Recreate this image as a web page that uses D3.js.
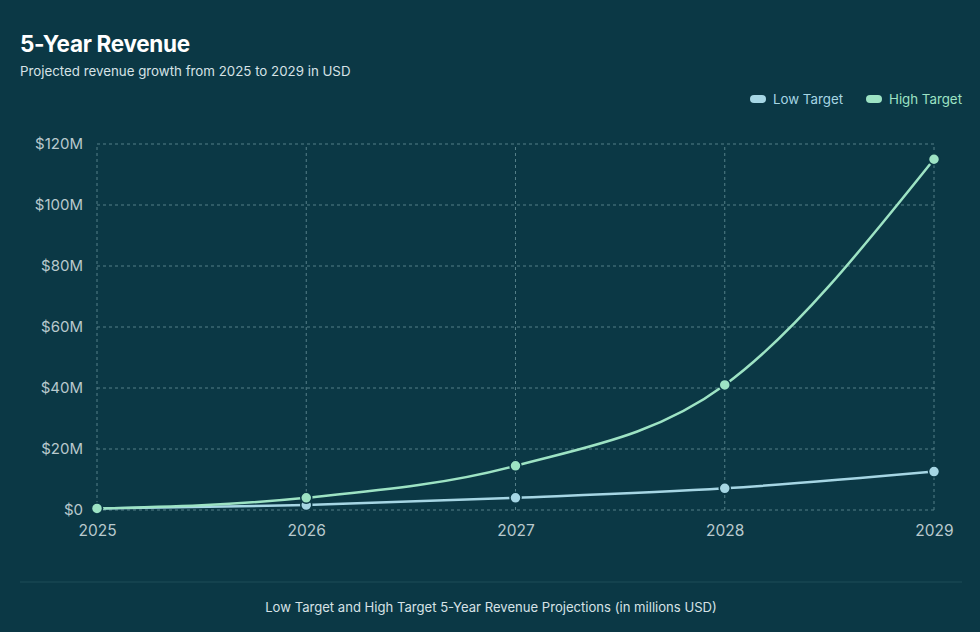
<!DOCTYPE html>
<html>
<head>
<meta charset="utf-8">
<script src="https://cdn.jsdelivr.net/npm/d3@7"></script>
<style>
  html, body { margin: 0; padding: 0; background: #0b3845; }
  body { font-family: Inter, "Noto Sans", sans-serif; }
</style>
</head>
<body>
<div id="app"></div>
<script>
// chart data (millions USD)
const years = [2025, 2026, 2027, 2028, 2029];
const lowTarget = [0.5, 1.6, 4, 7.1, 12.6];
const highTarget = [0.5, 4, 14.5, 41, 115];
const seriesNames = ['Low Target', 'High Target'];
const yTicks = [0, 20, 40, 60, 80, 100, 120];

const width = 980, height = 632;
const bg = '#0b3845';
const colors = ['#a6d6e4', '#9de3c4'];
const margin = { top: 144, right: 46, bottom: 122, left: 97 };

const svg = d3.select('#app').append('svg')
  .attr('width', width).attr('height', height)
  .style('display', 'block');

svg.append('rect').attr('width', width).attr('height', height).attr('fill', bg);

// titles
svg.append('text').attr('x', 20).attr('y', 52)
  .attr('fill', '#ffffff').attr('font-size', 22.5).attr('font-weight', 700)
  .attr('letter-spacing', -0.3)
  .text('5-Year Revenue');
svg.append('text').attr('x', 20).attr('y', 76)
  .attr('fill', '#d6e2e6').attr('font-size', 13.3)
  .text('Projected revenue growth from 2025 to 2029 in USD');

const x = d3.scalePoint().domain(years).range([margin.left, width - margin.right]);
const y = d3.scaleLinear().domain([0, 120]).range([height - margin.bottom, margin.top]);

// grid
const grid = svg.append('g').attr('stroke', '#557f88').attr('stroke-width', 1)
  .attr('stroke-dasharray', '3,3');
grid.selectAll('line.h').data(yTicks).join('line').attr('class', 'h')
  .attr('x1', margin.left).attr('x2', width - margin.right)
  .attr('y1', d => y(d)).attr('y2', d => y(d));
grid.selectAll('line.v').data(years).join('line').attr('class', 'v')
  .attr('y1', y(0)).attr('y2', y(120))
  .attr('x1', d => x(d)).attr('x2', d => x(d));

// axes
const yAxis = svg.append('g').attr('transform', `translate(${margin.left},0)`)
  .call(d3.axisLeft(y).tickValues(yTicks).tickSize(0).tickPadding(14)
    .tickFormat(d => d === 0 ? '$0' : `$${d}M`));
yAxis.select('.domain').remove();
yAxis.selectAll('text').attr('fill', '#b9c9cd').attr('font-size', 15)
  .attr('font-family', 'Inter, "Noto Sans", sans-serif');

const xAxis = svg.append('g').attr('transform', `translate(0,${y(0)})`)
  .call(d3.axisBottom(x).tickSize(0).tickPadding(15).tickFormat(d3.format('d')));
xAxis.select('.domain').remove();
xAxis.selectAll('text').attr('fill', '#b9c9cd').attr('font-size', 15.5)
  .attr('font-family', 'Inter, "Noto Sans", sans-serif');

// lines
const series = [lowTarget, highTarget];
const line = d3.line().x((d, i) => x(years[i])).y(d => y(d)).curve(d3.curveMonotoneX);

series.forEach((vals, s) => {
  svg.append('path').datum(vals)
    .attr('fill', 'none').attr('stroke', colors[s]).attr('stroke-width', 2.5)
    .attr('d', line);
});
series.forEach((vals, s) => {
  svg.append('g').selectAll('circle').data(vals).join('circle')
    .attr('cx', (d, i) => x(years[i])).attr('cy', d => y(d))
    .attr('r', 5.5).attr('fill', colors[s])
    .attr('stroke', bg).attr('stroke-width', 1.5);
});

// legend
const legend = svg.append('g');
const legendX = [750, 866];
seriesNames.forEach((name, i) => {
  const g = legend.append('g').attr('transform', `translate(${legendX[i]},99)`);
  g.append('rect').attr('x', 0).attr('y', -4).attr('width', 16).attr('height', 8)
    .attr('rx', 4).attr('fill', colors[i]);
  g.append('text').attr('x', 23).attr('y', 5)
    .attr('fill', colors[i]).attr('font-size', 13.3).text(name);
});

// divider + caption
svg.append('line').attr('x1', 20).attr('x2', 962).attr('y1', 582).attr('y2', 582)
  .attr('stroke', '#1f4c58').attr('stroke-width', 1);
svg.append('text').attr('x', 491).attr('y', 612).attr('text-anchor', 'middle')
  .attr('fill', '#d6e2e6').attr('font-size', 13.1)
  .text('Low Target and High Target 5-Year Revenue Projections (in millions USD)');
</script>
</body>
</html>
